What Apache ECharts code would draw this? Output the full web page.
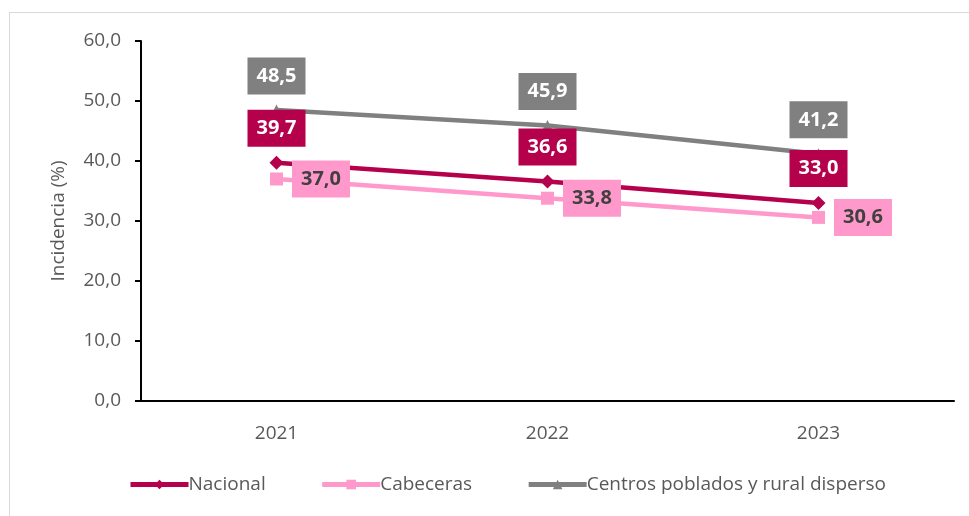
<!DOCTYPE html>
<html>
<head>
<meta charset="utf-8">
<script src="https://cdn.jsdelivr.net/npm/echarts@6/dist/echarts.min.js"></script>
<style>
  body { margin: 0; background: #fff; }
  #frame { position: absolute; left: 9px; top: 12px; width: 960px; height: 504px;
           border-top: 1px solid #d9d9d9; border-left: 1px solid #d9d9d9; }
  #chart { position: absolute; left: 0; top: 0; width: 969px; height: 516px; }
</style>
</head>
<body>
<div id="frame"></div>
<div id="chart"></div>
<script>
// incidencia por dominio
const years = ['2021', '2022', '2023'];
const nacional = [39.7, 36.6, 33.0];
const cabeceras = [37.0, 33.8, 30.6];
const centros = [48.5, 45.9, 41.2];
const yTicks = [0, 10, 20, 30, 40, 50, 60];

const fontFam = '"Open Sans", "Noto Sans", sans-serif';
const fmt = v => v.toFixed(1).replace('.', ',');

function mkLabel(pos, dist, bg, fg) {
    return {
        show: true,
        position: pos,
        distance: dist,
        formatter: p => fmt(p.value),
        backgroundColor: bg,
        color: fg,
        fontFamily: fontFam,
        fontWeight: 'bold',
        fontSize: 20,
        lineHeight: 23,
        padding: [7, 9, 7, 9]
    };
}

const chart = echarts.init(document.getElementById('chart'));
chart.setOption({
    backgroundColor: 'transparent',
    animation: false,
    grid: { left: 141, right: 15, top: 41, bottom: 115 },
    legend: {
        bottom: 17,
        left: 123,
        itemWidth: 58,
        itemHeight: 12,
        itemGap: 54,
        lineStyle: { width: 5 },
        textStyle: { fontFamily: fontFam, fontSize: 19, color: '#595959', padding: [0, 0, 0, -5] },
        data: ['Nacional', 'Cabeceras', 'Centros poblados y rural disperso']
    },
    xAxis: {
        type: 'category',
        data: years,
        axisLine: { lineStyle: { color: '#000', width: 2 } },
        axisTick: { show: false },
        axisLabel: { fontFamily: fontFam, fontSize: 19, color: '#595959', margin: 23 }
    },
    yAxis: {
        type: 'value',
        min: yTicks[0],
        max: yTicks[yTicks.length - 1],
        interval: 10,
        name: 'Incidencia (%)',
        nameLocation: 'middle',
        nameGap: 73,
        nameTextStyle: { fontFamily: fontFam, fontSize: 19, color: '#595959' },
        axisLine: { show: true, lineStyle: { color: '#000', width: 2 } },
        axisTick: { show: true, length: 6, lineStyle: { color: '#000', width: 2 } },
        splitLine: { show: false },
        axisLabel: { fontFamily: fontFam, fontSize: 19, color: '#595959', margin: 20, formatter: v => fmt(v) }
    },
    series: [
        {
            name: 'Centros poblados y rural disperso',
            type: 'line',
            data: centros,
            symbol: 'triangle',
            symbolSize: 11,
            color: '#808080',
            lineStyle: { width: 4.5 },
            label: mkLabel('top', 10, '#808080', '#fff'),
            z: 2
        },
        {
            name: 'Nacional',
            type: 'line',
            data: nacional,
            symbol: 'diamond',
            symbolSize: 14,
            color: '#B5004B',
            lineStyle: { width: 4.5 },
            label: mkLabel('top', 9, '#B5004B', '#fff'),
            z: 3
        },
        {
            name: 'Cabeceras',
            type: 'line',
            data: cabeceras,
            symbol: 'rect',
            symbolSize: 13,
            color: '#FF99CC',
            lineStyle: { width: 4.5 },
            label: mkLabel('right', 9, '#FF99CC', '#404040'),
            z: 4
        }
    ]
});
</script>
</body>
</html>
